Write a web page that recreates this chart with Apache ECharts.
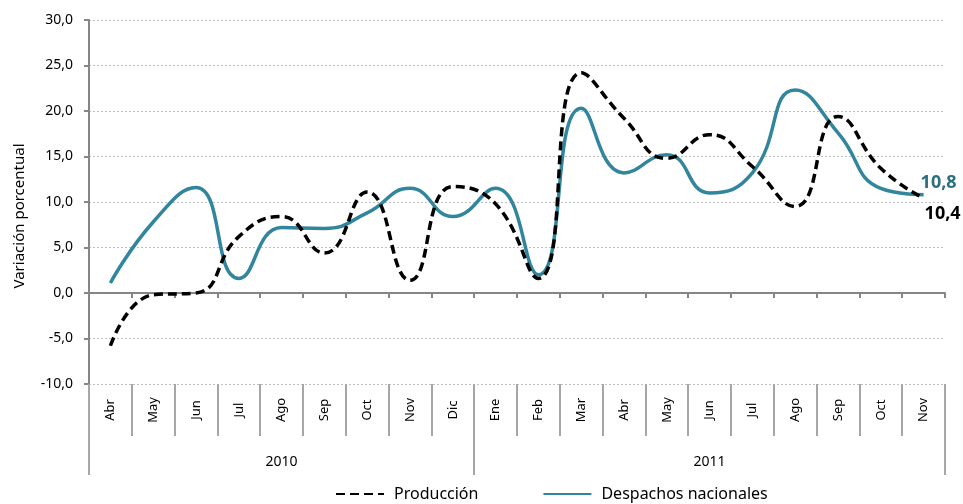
<!DOCTYPE html>
<html><head><meta charset="utf-8">
<script src="https://cdn.jsdelivr.net/npm/echarts@6/dist/echarts.min.js"></script>
<style>html,body{margin:0;padding:0;background:#fff}#c{width:963px;height:504px}</style>
</head><body><div id="c"></div>
<script>
const months = ['Abr','May','Jun','Jul','Ago','Sep','Oct','Nov','Dic','Ene','Feb','Mar','Abr','May','Jun','Jul','Ago','Sep','Oct','Nov'];
const years = ['2010','2011'];
const yearStartIndex = [0, 9];
const yearLabelIndex = [4, 14];
const produccion = [-5.8, -0.2, 0.0, 6.2, 8.4, 4.4, 11.1, 1.4, 11.7, 9.8, 1.6, 24.2, 19.2, 14.8, 17.4, 13.9, 9.5, 19.4, 13.7, 10.4];
const despachos = [1.1, 7.8, 11.6, 1.6, 7.2, 7.1, 8.8, 11.5, 8.4, 11.5, 2.0, 20.3, 13.2, 15.2, 11.0, 13.2, 22.3, 17.6, 11.5, 10.8];
const yTicks = {min: -10, max: 30, interval: 5};

const fmt = v => v.toFixed(1).replace('.', ',');
const FONT = 'Noto Sans';
const teal = '#31859C';

const chart = echarts.init(document.getElementById('c'), null, {renderer: 'canvas'});
chart.setOption({
  animation: false,
  textStyle: {fontFamily: FONT},
  grid: {left: 89, right: 18, top: 20, bottom: 120, containLabel: false},
  legend: {
    top: 486, left: 335, padding: 0, itemWidth: 48, itemHeight: 14, itemGap: 64,
    itemStyle: {opacity: 0},
    textStyle: {fontSize: 16, color: '#000', fontFamily: FONT, padding: [0, 0, 0, 5]},
    data: ['Producción', 'Despachos nacionales']
  },
  xAxis: [
    {type: 'category', data: months, boundaryGap: true, position: 'bottom',
     axisLine: {onZero: true, lineStyle: {color: '#868686', width: 2}},
     axisTick: {show: true, length: 5, lineStyle: {color: '#868686', width: 2}},
     axisLabel: {show: false}, splitLine: {show: false}},
    {type: 'category', data: months, boundaryGap: true, position: 'bottom',
     axisLine: {show: false, onZero: false},
     axisTick: {show: true, length: 52, lineStyle: {color: '#A6A6A6', width: 2}},
     axisLabel: {show: true, interval: 0, rotate: 90, align: 'center', verticalAlign: 'middle',
       margin: 26, fontSize: 13, color: '#000', fontFamily: FONT},
     splitLine: {show: false}},
    {type: 'category', data: months, boundaryGap: true, position: 'bottom',
     axisLine: {show: false, onZero: false},
     axisTick: {show: true, length: 91, interval: (i) => yearStartIndex.indexOf(i) >= 0,
       lineStyle: {color: '#A6A6A6', width: 2}},
     axisLabel: {show: true, interval: (i) => yearLabelIndex.indexOf(i) >= 0,
       formatter: (v, i) => { const k = yearLabelIndex.indexOf(i); return k >= 0 ? years[k] : ''; },
       margin: 71, fontSize: 14, color: '#000', fontFamily: FONT},
     splitLine: {show: false}}
  ],
  yAxis: {
    type: 'value', min: yTicks.min, max: yTicks.max, interval: yTicks.interval,
    name: 'Variación porcentual', nameLocation: 'middle', nameGap: 62, nameRotate: 90,
    nameTextStyle: {fontSize: 15, color: '#000', fontFamily: FONT, padding: [0, 28, 0, 0]},
    axisLine: {show: true, lineStyle: {color: '#868686', width: 2}},
    axisTick: {show: true, length: 5, lineStyle: {color: '#868686', width: 2}},
    axisLabel: {formatter: fmt, fontSize: 14, color: '#000', margin: 16, fontFamily: FONT},
    splitLine: {show: true, lineStyle: {color: '#BFBFBF', type: [2, 2], width: 1}}
  },
  series: [
    {name: 'Producción', type: 'line', xAxisIndex: 0, smooth: 0.5, showSymbol: false, symbol: 'none',
     data: produccion,
     endLabel: {show: true, formatter: p => fmt(p.value), offset: [1, 16], distance: 0,
       color: '#000', fontWeight: 'bold', fontSize: 18, fontFamily: FONT},
     lineStyle: {color: '#000', width: 3.5, type: [9, 5]}, itemStyle: {color: '#000'}, z: 3},
    {name: 'Despachos nacionales', type: 'line', xAxisIndex: 0, smooth: 0.5, showSymbol: false, symbol: 'none',
     data: despachos,
     endLabel: {show: true, formatter: p => fmt(p.value), offset: [-3, -12], distance: 0,
       color: '#2B6F80', fontWeight: 'bold', fontSize: 18, fontFamily: FONT},
     lineStyle: {color: teal, width: 3.5}, itemStyle: {color: teal}, z: 2}
  ]
});
</script></body></html>
